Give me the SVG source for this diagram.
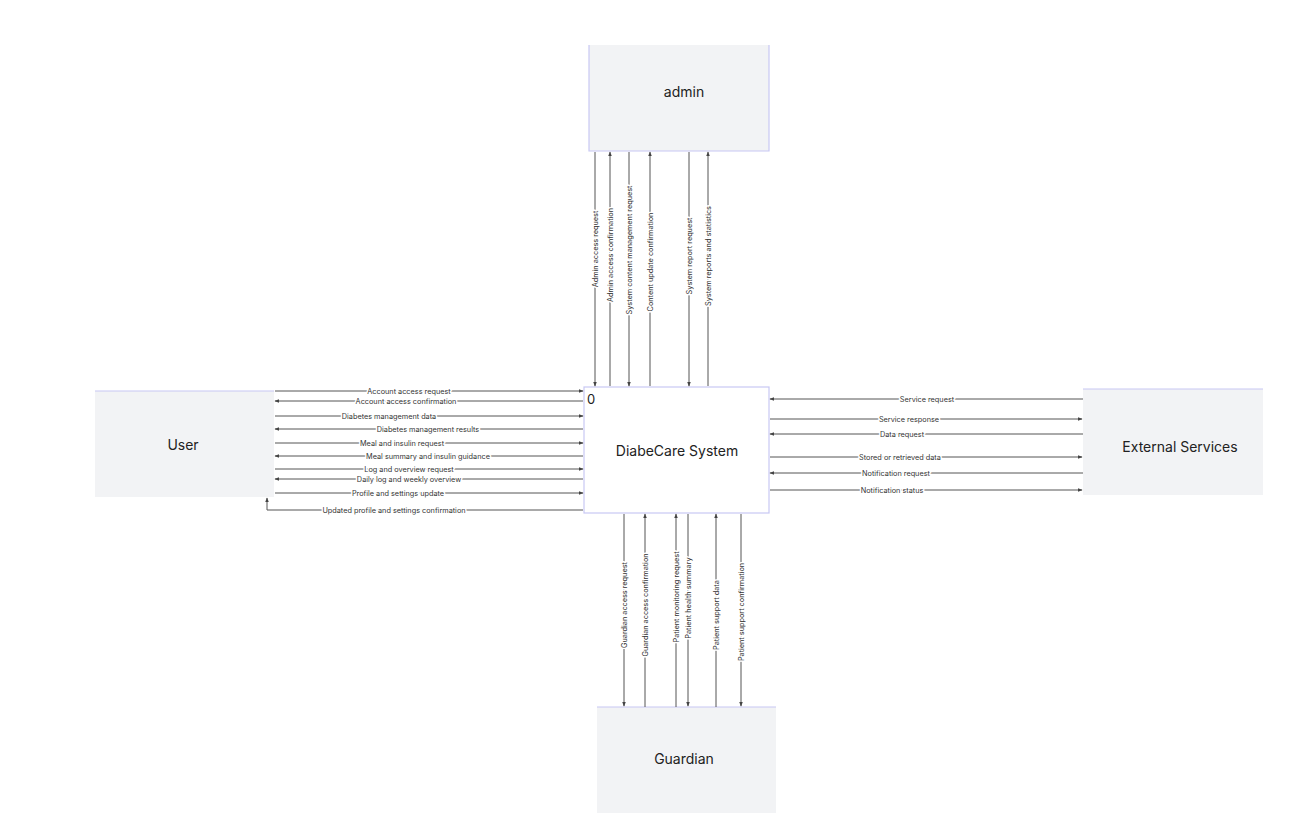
<svg xmlns="http://www.w3.org/2000/svg" width="1294" height="829" viewBox="0 0 1294 829">
<style>
.ent{fill:#f2f3f5}
.bd{stroke:#c8c8f4;stroke-width:1.2;fill:none}
.big{font-family:Inter,"Liberation Sans",sans-serif;font-size:14px;fill:#222;text-anchor:middle;dominant-baseline:central}
.c{stroke:#555;stroke-width:1;fill:none;marker-end:url(#ah)}
.lb{font-family:Inter,"Liberation Sans",sans-serif;font-size:7.3px;fill:#333;text-anchor:middle;dominant-baseline:central;stroke:#fff;stroke-width:3;paint-order:stroke;stroke-linejoin:round}
</style>
<defs>
<marker id="ah" viewBox="0 0 8 8" refX="7" refY="4" markerWidth="5" markerHeight="5" orient="auto" markerUnits="userSpaceOnUse">
<path d="M0,1 L8,4 L0,7 Z" fill="#444"/>
</marker>
</defs>
<rect width="1294" height="829" fill="#fff"/>

<g id="admin">
<rect class="ent" x="589" y="45" width="180" height="106"/>
<path class="bd" d="M589,45 V151 H769 V45"/>
<text class="big" x="684" y="91">admin</text>
</g>

<g id="user">
<rect class="ent" x="95" y="391" width="179" height="106"/>
<path class="bd" d="M95,391 H274"/>
<text class="big" x="183" y="444">User</text>
</g>

<g id="external">
<rect class="ent" x="1083" y="389" width="180" height="106"/>
<path class="bd" d="M1083,389 H1263"/>
<text class="big" x="1180" y="446">External Services</text>
</g>

<g id="guardian">
<rect class="ent" x="597" y="707" width="179" height="106"/>
<path class="bd" d="M597,707 H776"/>
<text class="big" x="684" y="758">Guardian</text>
</g>

<g id="system">
<rect x="584" y="387" width="185" height="126" fill="#fff" stroke="#c8c8f4" stroke-width="1.2"/>
<text x="587" y="399" font-family="Inter,'Liberation Sans',sans-serif" font-size="13" fill="#222" dominant-baseline="central">0</text>
<text class="big" x="677" y="450">DiabeCare System</text>
</g>

<g id="connectors">
<!-- admin -->
<path class="c" d="M595,152 V386"/>
<path class="c" d="M610,386 V152"/>
<path class="c" d="M629,152 V386"/>
<path class="c" d="M650,386 V152"/>
<path class="c" d="M689,152 V386"/>
<path class="c" d="M708,386 V152"/>
<!-- user -->
<path class="c" d="M275,391 H583"/>
<path class="c" d="M583,401 H275"/>
<path class="c" d="M275,416 H583"/>
<path class="c" d="M583,429 H275"/>
<path class="c" d="M275,443 H583"/>
<path class="c" d="M583,456 H275"/>
<path class="c" d="M275,469 H583"/>
<path class="c" d="M583,479 H275"/>
<path class="c" d="M275,493 H583"/>
<path class="c" d="M583,510 H267 V498"/>
<!-- external -->
<path class="c" d="M1083,399 H770"/>
<path class="c" d="M770,419 H1082"/>
<path class="c" d="M1083,434 H770"/>
<path class="c" d="M770,457 H1082"/>
<path class="c" d="M1083,473 H770"/>
<path class="c" d="M770,490 H1082"/>
<!-- guardian -->
<path class="c" d="M624,514 V706"/>
<path class="c" d="M645,707 V514"/>
<path class="c" d="M676,707 V514"/>
<path class="c" d="M688,514 V706"/>
<path class="c" d="M716,707 V514"/>
<path class="c" d="M741,514 V706"/>
</g>

<g id="labels">
<text class="lb" transform="translate(595,249) rotate(-90)">Admin access request</text>
<text class="lb" transform="translate(610,255) rotate(-90)">Admin access confirmation</text>
<text class="lb" transform="translate(629,250) rotate(-90)">System content management request</text>
<text class="lb" transform="translate(650,262) rotate(-90)">Content update confirmation</text>
<text class="lb" transform="translate(689,256) rotate(-90)">System report request</text>
<text class="lb" transform="translate(708,256) rotate(-90)">System reports and statistics</text>

<text class="lb" x="409" y="391">Account access request</text>
<text class="lb" x="406" y="401">Account access confirmation</text>
<text class="lb" x="389" y="416">Diabetes management data</text>
<text class="lb" x="428" y="429">Diabetes management results</text>
<text class="lb" x="402" y="443">Meal and insulin request</text>
<text class="lb" x="428" y="456">Meal summary and insulin guidance</text>
<text class="lb" x="409" y="469">Log and overview request</text>
<text class="lb" x="409" y="479">Daily log and weekly overview</text>
<text class="lb" x="398" y="493">Profile and settings update</text>
<text class="lb" x="394" y="510">Updated profile and settings confirmation</text>

<text class="lb" x="927" y="399">Service request</text>
<text class="lb" x="909" y="419">Service response</text>
<text class="lb" x="902" y="434">Data request</text>
<text class="lb" x="900" y="457">Stored or retrieved data</text>
<text class="lb" x="896" y="473">Notification request</text>
<text class="lb" x="892" y="490">Notification status</text>

<text class="lb" transform="translate(624,605) rotate(-90)">Guardian access request</text>
<text class="lb" transform="translate(645,605) rotate(-90)">Guardian access confirmation</text>
<text class="lb" transform="translate(676,597) rotate(-90)">Patient monitoring request</text>
<text class="lb" transform="translate(688,598) rotate(-90)">Patient health summary</text>
<text class="lb" transform="translate(716,615) rotate(-90)">Patient support data</text>
<text class="lb" transform="translate(741,612) rotate(-90)">Patient support confirmation</text>
</g>
</svg>
